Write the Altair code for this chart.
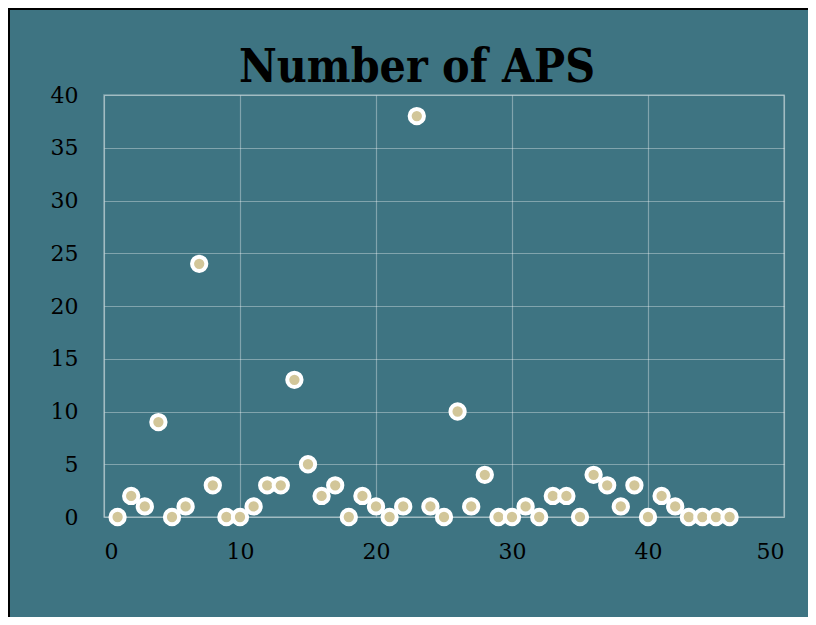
import altair as alt
import pandas as pd

title_text = ["Number of APS"]
index = list(range(1, 47))
aps = [0, 2, 1, 9, 0, 1, 24, 3, 0, 0,
       1, 3, 3, 13, 5, 2, 3, 0, 2, 1,
       0, 1, 38, 1, 0, 10, 1, 4, 0, 0,
       1, 0, 2, 2, 0, 4, 3, 1, 3, 0,
       2, 1, 0, 0, 0, 0]

df = pd.DataFrame({"n": index, "aps": aps})
tdf = pd.DataFrame({"t": title_text})

BG = "#3e7482"
GRID = "rgba(255,255,255,0.35)"
FONT = "DejaVu Serif"

points = alt.Chart(df).mark_point(
    shape="circle", filled=True, fill="#d2c699", stroke="white",
    strokeWidth=4, size=205, opacity=1
).encode(
    x=alt.X("n:Q", scale=alt.Scale(domain=[0, 50], nice=False),
            axis=alt.Axis(values=[0, 10, 20, 30, 40, 50], title=None)),
    y=alt.Y("aps:Q", scale=alt.Scale(domain=[0, 40], nice=False),
            axis=alt.Axis(values=[0, 5, 10, 15, 20, 25, 30, 35, 40], title=None)),
)

title = alt.Chart(tdf).mark_text(
    font="DejaVu Serif Condensed, DejaVu Serif", fontSize=46, fontWeight="bold",
    color="black", align="center", baseline="alphabetic"
).encode(x=alt.value(313), y=alt.value(-13), text="t:N")

top_border = alt.Chart(tdf).mark_rule(color="black", strokeWidth=2, clip=False).encode(
    x=alt.value(-100), x2=alt.value(760), y=alt.value(-86)
)
left_border = alt.Chart(tdf).mark_rule(color="black", strokeWidth=2, clip=False).encode(
    x=alt.value(-95), y=alt.value(-90), y2=alt.value(560)
)

chart = alt.layer(top_border, left_border, title, points).properties(
    width=680, height=422,
    autosize=alt.AutoSizeParams(type="none"),
    padding={"left": 96, "top": 87, "right": 24, "bottom": 100},
    background=BG,
).configure_view(
    stroke=GRID, strokeWidth=1.5, fill=BG
).configure_axis(
    grid=True, gridColor=GRID, gridWidth=1.2, domain=False, ticks=False,
    labelFont=FONT, labelFontSize=22, labelColor="black",
).configure_axisY(
    labelPadding=26
).configure_axisX(
    labelPadding=24
)

chart.save("out.html", embed_options={"renderer": "svg", "actions": False})
